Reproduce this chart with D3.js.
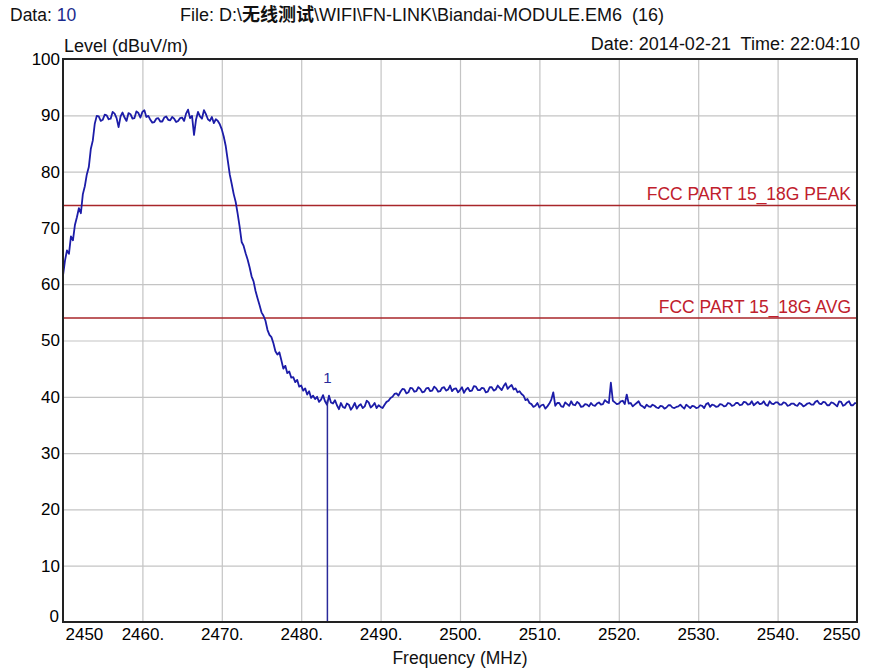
<!DOCTYPE html>
<html>
<head>
<meta charset="utf-8">
<script src="https://cdn.jsdelivr.net/npm/d3@7"></script>
<style>
    body { margin: 0; background: #fff; }
    svg text { font-family: "Liberation Sans", Arial, sans-serif; white-space: pre; }
</style>
</head>
<body>
<div id="chart"></div>
<script>
// trace readings, one every 0.25 MHz from 2450 to 2550 (dBuV/m), 20 per row
const levels = [
    61.5, 64.2, 66.0, 65.4, 68.5, 67.8, 70.5, 71.9, 73.5, 72.6, 76.0, 77.4, 79.5, 80.8, 84.0, 85.5, 88.5, 89.9, 89.8, 89.0, // 2450
    89.2, 90.1, 90.0, 89.3, 89.4, 90.6, 90.3, 89.5, 87.9, 89.8, 90.5, 89.6, 89.0, 90.4, 90.2, 89.4, 89.5, 90.7, 90.4, 89.6, // 2455
    90.6, 90.9, 89.7, 89.9, 89.2, 88.7, 88.8, 89.4, 89.5, 88.9, 88.9, 89.6, 89.8, 89.2, 89.1, 89.7, 89.4, 88.8, 89.0, 89.5, // 2460
    89.6, 89.0, 90.3, 91.0, 89.5, 89.9, 86.5, 89.2, 90.6, 89.8, 89.4, 90.9, 90.2, 89.3, 89.0, 89.7, 88.6, 89.3, 89.0, 88.4, // 2465
    87.5, 86.2, 84.5, 82.0, 79.5, 77.8, 76.0, 74.6, 72.5, 70.2, 67.5, 66.8, 65.5, 64.4, 63.0, 61.4, 60.5, 58.8, 57.5, 56.3, // 2470
    55.0, 54.4, 53.5, 51.9, 51.0, 50.6, 49.5, 48.1, 47.5, 47.9, 46.5, 45.0, 45.5, 44.2, 44.5, 43.4, 43.5, 42.6, 43.0, 41.8, // 2475
    42.0, 41.1, 41.5, 40.4, 41.0, 39.8, 40.2, 39.6, 40.0, 39.1, 39.5, 40.3, 39.2, 38.6, 40.2, 39.0, 38.8, 39.4, 38.5, 37.8, // 2480
    38.9, 38.2, 38.0, 38.8, 38.6, 37.7, 38.2, 38.9, 37.9, 38.4, 38.7, 38.0, 38.3, 39.3, 39.0, 38.1, 38.4, 38.9, 38.0, 38.5, // 2485
    38.2, 38.0, 38.6, 39.1, 39.3, 39.8, 40.0, 40.5, 40.6, 40.2, 40.9, 41.4, 41.3, 40.6, 40.8, 41.6, 41.5, 40.9, 41.0, 41.7, // 2490
    41.4, 40.8, 40.9, 41.5, 41.6, 41.0, 41.1, 41.8, 41.5, 40.9, 41.0, 41.6, 41.7, 41.1, 41.3, 42.0, 41.0, 41.4, 41.5, 40.8, // 2495
    41.2, 41.7, 40.7, 41.3, 41.6, 41.0, 41.1, 41.9, 41.8, 41.2, 41.2, 41.6, 41.5, 40.8, 40.9, 41.7, 41.7, 41.1, 41.3, 42.0, // 2500
    41.6, 41.2, 41.9, 42.4, 41.4, 41.8, 42.1, 41.3, 41.5, 40.8, 41.0, 40.5, 40.2, 39.4, 39.6, 38.9, 38.7, 38.2, 38.4, 38.9, // 2505
    38.1, 38.5, 38.6, 37.9, 38.3, 38.8, 39.5, 40.8, 38.4, 38.9, 38.9, 38.3, 38.2, 39.0, 38.7, 38.4, 39.2, 38.6, 38.5, 39.1, // 2510
    38.8, 38.2, 38.3, 38.7, 38.6, 38.3, 38.9, 38.5, 38.4, 38.8, 39.0, 38.6, 38.7, 39.4, 39.1, 38.9, 42.5, 39.3, 39.0, 38.7, // 2515
    38.8, 39.2, 39.3, 38.7, 40.4, 38.8, 38.9, 38.3, 38.6, 38.9, 39.2, 38.5, 38.3, 38.0, 38.6, 38.3, 38.2, 38.6, 38.4, 38.1, // 2520
    38.0, 38.4, 38.3, 37.9, 38.1, 38.5, 38.5, 38.1, 38.0, 38.2, 38.3, 38.6, 38.2, 37.9, 38.6, 38.3, 38.0, 38.4, 38.3, 38.0, // 2525
    38.1, 38.5, 38.4, 38.0, 38.7, 38.9, 38.2, 38.6, 38.5, 38.2, 38.3, 38.7, 38.6, 38.3, 38.4, 38.9, 38.8, 38.4, 38.5, 38.9, // 2530
    38.9, 38.5, 38.6, 39.1, 39.0, 38.6, 38.7, 39.2, 38.5, 38.8, 39.1, 38.7, 38.8, 39.2, 38.6, 38.4, 39.2, 38.8, 38.7, 39.0, // 2535
    39.0, 38.6, 38.6, 39.0, 38.9, 38.4, 38.5, 38.8, 38.8, 38.5, 38.4, 38.9, 38.7, 38.3, 38.5, 38.8, 38.9, 38.6, 38.6, 39.1, // 2540
    39.3, 38.8, 38.7, 39.1, 39.0, 38.5, 38.5, 39.0, 38.9, 38.6, 38.3, 39.2, 39.1, 38.4, 38.6, 39.0, 39.2, 38.5, 38.5, 38.9, // 2545
    38.8                                                                                                                    // 2550
];
const freqs = d3.range(levels.length).map(i => 2450 + i * 0.25);

// limit lines
const limitNames = ["FCC PART 15_18G PEAK", "FCC PART 15_18G AVG"];
const limitValues = [74, 54];

// marker
const markerFreq = 2483.3;
const markerLevel = 39.4;

// ticks
const xTicks = [2450, 2460, 2470, 2480, 2490, 2500, 2510, 2520, 2530, 2540, 2550];
const xTickLabels = ["2450", "2460.", "2470.", "2480.", "2490.", "2500.", "2510.", "2520.", "2530.", "2540.", "2550"];
const yTicks = [0, 10, 20, 30, 40, 50, 60, 70, 80, 90, 100];

let margin = { top: 59, right: 17, bottom: 49, left: 63 },
    width = 874 - margin.left - margin.right,
    height = 671 - margin.top - margin.bottom;

let root = d3.select("#chart")
    .append("svg")
    .attr("width", 874)
    .attr("height", 671);

// header texts
let head = root.append("text")
    .attr("x", 10).attr("y", 21)
    .style("font-size", "17.5px").attr("fill", "#111");
head.append("tspan").text("Data: ");
head.append("tspan").attr("fill", "#1a2a8c").text("10");

let fileText = root.append("text")
    .attr("x", 180).attr("y", 21)
    .style("font-size", "18px").attr("fill", "#111");
fileText.append("tspan").text("File: D:\\");
fileText.append("tspan").style("font-weight", "bold").style("font-family", "'Noto Sans CJK SC', sans-serif").text("无线测试");
fileText.append("tspan").text("\\WIFI\\FN-LINK\\Biandai-MODULE.EM6  (16)");

root.append("text")
    .attr("x", 860).attr("y", 50)
    .attr("text-anchor", "end")
    .style("font-size", "18px").attr("fill", "#111")
    .text("Date: 2014-02-21  Time: 22:04:10");

root.append("text")
    .attr("x", 64).attr("y", 52)
    .style("font-size", "18px").attr("fill", "#111")
    .text("Level (dBuV/m)");

let svg = root.append("g")
    .attr("transform", "translate(" + margin.left + "," + margin.top + ")");

let x = d3.scaleLinear().domain([2450, 2550]).range([0, width]);
let y = d3.scaleLinear().domain([0, 100]).range([height, 0]);

// gridlines
svg.append("g")
    .attr("class", "grid")
    .attr("transform", "translate(0," + height + ")")
    .call(d3.axisBottom(x).tickValues(xTicks.slice(1, -1)).tickSize(-height).tickFormat(""));
svg.append("g")
    .attr("class", "grid")
    .call(d3.axisLeft(y).tickValues(yTicks.slice(1, -1)).tickSize(-width).tickFormat(""));
svg.selectAll(".grid .domain").remove();
svg.selectAll(".grid line").attr("stroke", "#c4c4c4").attr("stroke-width", 1.2);

// limit lines
limitValues.forEach(function (v, i) {
    svg.append("line")
        .attr("x1", 0).attr("x2", width)
        .attr("y1", y(v)).attr("y2", y(v))
        .attr("stroke", "#a8262a").attr("stroke-width", 1.5);
    svg.append("text")
        .attr("x", width - 6).attr("y", y(v) - 5)
        .attr("text-anchor", "end")
        .style("font-size", "17.5px")
        .attr("fill", "#c0202c")
        .text(limitNames[i]);
});

// trace
let pts = freqs.map((f, i) => [f, levels[i]]);
svg.append("path")
    .datum(pts)
    .attr("fill", "none")
    .attr("stroke", "#1c1ca8")
    .attr("stroke-width", 1.8)
    .attr("stroke-linejoin", "round")
    .attr("d", d3.line().x(d => x(d[0])).y(d => y(d[1])));

// marker
svg.append("line")
    .attr("x1", x(markerFreq)).attr("x2", x(markerFreq))
    .attr("y1", y(markerLevel)).attr("y2", y(0))
    .attr("stroke", "#2a2a9a").attr("stroke-width", 1.5);
svg.append("text")
    .attr("x", x(markerFreq)).attr("y", y(markerLevel) - 17)
    .attr("text-anchor", "middle")
    .style("font-size", "15px").attr("fill", "#2a2a9a")
    .text("1");

// axes labels
let xAxis = svg.append("g")
    .attr("transform", "translate(0," + height + ")")
    .call(d3.axisBottom(x).tickValues(xTicks).tickSize(0).tickPadding(6)
        .tickFormat((d, i) => xTickLabels[i]));
xAxis.select(".domain").remove();
xAxis.selectAll("text")
    .style("font-size", "17px").attr("fill", "#000")
    .attr("text-anchor", (d, i) => i == 0 ? "start" : (i == xTicks.length - 1 ? "end" : "middle"))
    .attr("dx", (d, i) => i == 0 ? "2" : (i == xTicks.length - 1 ? "3" : "0"));

let yAxis = svg.append("g")
    .call(d3.axisLeft(y).tickValues(yTicks).tickSize(0).tickPadding(3));
yAxis.select(".domain").remove();
yAxis.selectAll("text").style("font-size", "17px").attr("fill", "#000");
yAxis.selectAll(".tick").filter(d => d == 0).select("text").attr("dy", "-0.05em").attr("x", -4);

svg.append("text")
    .attr("x", width / 2).attr("y", height + 42)
    .attr("text-anchor", "middle")
    .style("font-size", "17.5px").attr("fill", "#111")
    .text("Frequency (MHz)");

// frame
svg.append("rect")
    .attr("x", 0).attr("y", 0)
    .attr("width", width).attr("height", height)
    .attr("fill", "none")
    .attr("stroke", "#222").attr("stroke-width", 2);
</script>
</body>
</html>
